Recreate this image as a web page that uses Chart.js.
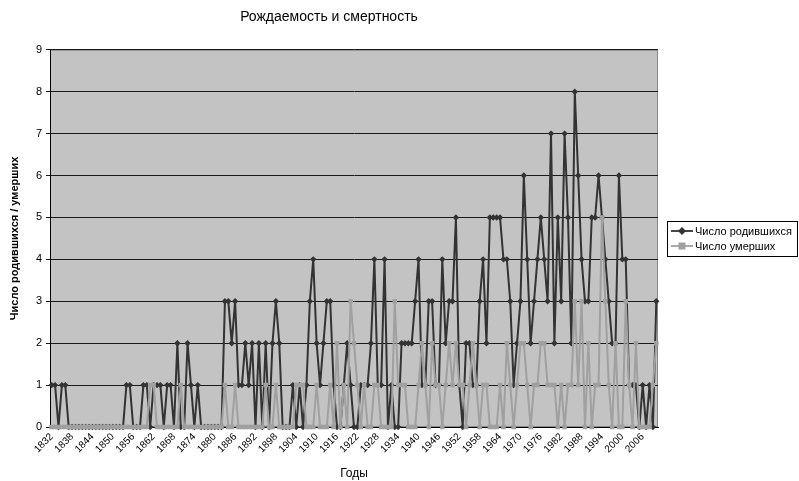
<!DOCTYPE html>
<html>
<head>
<meta charset="utf-8">
<script src="https://cdn.jsdelivr.net/npm/chart.js@4/dist/chart.umd.min.js"></script>
<style>
  html, body { margin: 0; padding: 0; background: #fff; }
  #wrap { width: 799px; height: 481px; }
</style>
</head>
<body>
<div id="wrap"><canvas id="grafica"></canvas></div>
<script>
// Годы по оси X
const firstYear = 1832;
const lastYear = 2010;
const years = [];
for (let y = firstYear; y <= lastYear; y++) years.push(String(y));

// Число родившихся (1832..2010)
const births = [
  1, 1, 0, 1, 1, 0, 0, 0, 0, 0,
  0, 0, 0, 0, 0, 0, 0, 0, 0, 0,
  0, 0, 1, 1, 0, 0, 0, 1, 1, 0,
  1, 1, 1, 0, 1, 1, 0, 2, 0, 0,
  2, 1, 0, 1, 0, 0, 0, 0, 0, 0,
  0, 3, 3, 2, 3, 1, 1, 2, 1, 2,
  0, 2, 0, 2, 0, 2, 3, 2, 0, 0,
  0, 1, 0, 1, 0, 1, 3, 4, 2, 1,
  2, 3, 3, 1, 0, 0, 1, 2, 1, 0,
  0, 1, 1, 1, 2, 4, 1, 1, 4, 0,
  1, 0, 0, 2, 2, 2, 2, 3, 4, 1,
  1, 3, 3, 1, 1, 4, 2, 3, 3, 5,
  1, 0, 2, 2, 1, 1, 3, 4, 2, 5,
  5, 5, 5, 4, 4, 3, 1, 2, 3, 6,
  4, 2, 3, 4, 5, 4, 3, 7, 2, 5,
  3, 7, 5, 2, 8, 6, 4, 3, 3, 5,
  5, 6, 5, 4, 3, 2, 2, 6, 4, 4,
  1, 1, 1, 0, 1, 0, 1, 0, 3
];

// Число умерших (1832..2010)
const deaths = [
  0, 0, 0, 0, 0, 0, 0, 0, 0, 0,
  0, 0, 0, 0, 0, 0, 0, 0, 0, 0,
  0, 0, 0, 0, 0, 0, 0, 0, 0, 1,
  1, 0, 0, 0, 0, 0, 0, 0, 1, 0,
  0, 0, 0, 0, 0, 0, 0, 0, 0, 0,
  0, 1, 0, 0, 1, 0, 0, 0, 0, 0,
  0, 0, 0, 1, 0, 0, 1, 0, 0, 0,
  0, 0, 1, 1, 1, 0, 0, 0, 1, 0,
  0, 0, 1, 0, 2, 0, 1, 0, 3, 2,
  1, 0, 1, 0, 0, 1, 1, 0, 0, 0,
  0, 3, 1, 1, 1, 0, 0, 0, 1, 2,
  1, 0, 2, 1, 1, 0, 1, 2, 1, 2,
  1, 1, 0, 1, 2, 1, 0, 1, 1, 0,
  0, 0, 1, 0, 2, 1, 0, 1, 2, 2,
  1, 0, 1, 1, 2, 2, 1, 1, 1, 0,
  1, 0, 1, 1, 3, 1, 3, 0, 2, 0,
  1, 1, 5, 3, 1, 0, 2, 0, 0, 3,
  1, 0, 2, 0, 0, 0, 0, 1, 2
];

const yTicks = [0, 1, 2, 3, 4, 5, 6, 7, 8, 9];
const seriesNames = ['Число родившихся', 'Число умерших'];

const colorBirths = '#333333';
const colorDeaths = '#a0a0a0';
const fontFamily = '"Liberation Sans", Arial, sans-serif';

// фон области построения и рамка
const plotBackground = {
  id: 'plotBackground',
  beforeDraw(chart) {
    const { ctx, chartArea: a } = chart;
    ctx.save();
    ctx.fillStyle = '#c3c3c3';
    ctx.fillRect(a.left, a.top, a.right - a.left, a.bottom - a.top);
    ctx.strokeStyle = '#8a8a8a';
    ctx.lineWidth = 1;
    ctx.strokeRect(a.left + 0.5, a.top + 0.5, a.right - a.left - 1, a.bottom - a.top - 1);
    ctx.restore();
  }
};

// легенда справа, как в Excel
const excelLegend = {
  id: 'excelLegend',
  afterDraw(chart) {
    const { ctx } = chart;
    const x = 667, y = 221, w = 130, h = 35;
    ctx.save();
    ctx.fillStyle = '#fff';
    ctx.fillRect(x, y, w, h);
    ctx.strokeStyle = '#000';
    ctx.lineWidth = 1;
    ctx.strokeRect(x + 0.5, y + 0.5, w, h);
    ctx.font = '11px ' + fontFamily;
    ctx.textBaseline = 'middle';
    const rows = [
      { label: seriesNames[0], color: colorBirths, shape: 'diamond', cy: y + 10 },
      { label: seriesNames[1], color: colorDeaths, shape: 'square', cy: y + 25 }
    ];
    rows.forEach(r => {
      ctx.strokeStyle = r.color;
      ctx.lineWidth = 1.8;
      ctx.beginPath();
      ctx.moveTo(x + 4, r.cy);
      ctx.lineTo(x + 26, r.cy);
      ctx.stroke();
      ctx.fillStyle = r.color;
      if (r.shape === 'diamond') {
        ctx.beginPath();
        ctx.moveTo(x + 15, r.cy - 4);
        ctx.lineTo(x + 19, r.cy);
        ctx.lineTo(x + 15, r.cy + 4);
        ctx.lineTo(x + 11, r.cy);
        ctx.closePath();
        ctx.fill();
      } else {
        ctx.fillRect(x + 11.5, r.cy - 3.5, 7, 7);
      }
      ctx.fillStyle = '#000';
      ctx.fillText(r.label, x + 28, r.cy + 0.5);
    });
    ctx.restore();
  }
};

const ctx = document.getElementById('grafica').getContext('2d');
new Chart(ctx, {
  type: 'line',
  data: {
    labels: years,
    datasets: [
      {
        label: seriesNames[0],
        data: births,
        borderColor: colorBirths,
        backgroundColor: colorBirths,
        borderWidth: 2,
        pointStyle: 'rectRot',
        pointRadius: 3.2,
        pointBorderWidth: 0,
        tension: 0,
        clip: 6,
        order: 2
      },
      {
        label: seriesNames[1],
        data: deaths,
        borderColor: colorDeaths,
        backgroundColor: colorDeaths,
        borderWidth: 2,
        pointStyle: 'rect',
        pointRadius: 3.2,
        pointBorderWidth: 0,
        tension: 0,
        clip: 6,
        order: 1
      }
    ]
  },
  options: {
    responsive: true,
    maintainAspectRatio: false,
    animation: false,
    layout: { padding: { left: 0, right: 141, top: 0, bottom: 0 } },
    plugins: {
      legend: { display: false },
      tooltip: { enabled: false },
      title: {
        display: true,
        text: 'Рождаемость и смертность',
        color: '#000',
        font: { family: fontFamily, size: 14, weight: 'normal' },
        padding: { top: 9, bottom: 24 }
      }
    },
    scales: {
      x: {
        offset: true,
        grid: { display: false, drawTicks: true, tickLength: 4, color: '#000' },
        border: { display: true, color: '#000' },
        ticks: {
          autoSkip: false,
          maxRotation: 45,
          minRotation: 45,
          color: '#000',
          padding: 0,
          font: { family: fontFamily, size: 10 },
          callback(value, index) {
            return (index % 6 === 0) ? years[index] : '';
          }
        },
        title: {
          display: true,
          text: 'Годы',
          color: '#000',
          font: { family: fontFamily, size: 12 },
          padding: { top: 4, bottom: 0 }
        },
        afterFit(scale) { scale.height = 54; }
      },
      y: {
        min: 0,
        max: 9,
        afterBuildTicks(scale) { scale.ticks = yTicks.map(v => ({ value: v })); },
        grid: { color: '#1a1a1a', lineWidth: 1, tickLength: 4, drawTicks: true },
        border: { display: true, color: '#000' },
        ticks: {
          color: '#000',
          padding: 4,
          font: { family: fontFamily, size: 11 }
        },
        title: {
          display: true,
          text: 'Число родившихся / умерших',
          color: '#000',
          font: { family: fontFamily, size: 11, weight: 'bold' },
          padding: { top: 8, bottom: 0 }
        },
        afterFit(scale) { scale.width = 50; }
      }
    }
  },
  plugins: [plotBackground, excelLegend]
});
</script>
</body>
</html>
